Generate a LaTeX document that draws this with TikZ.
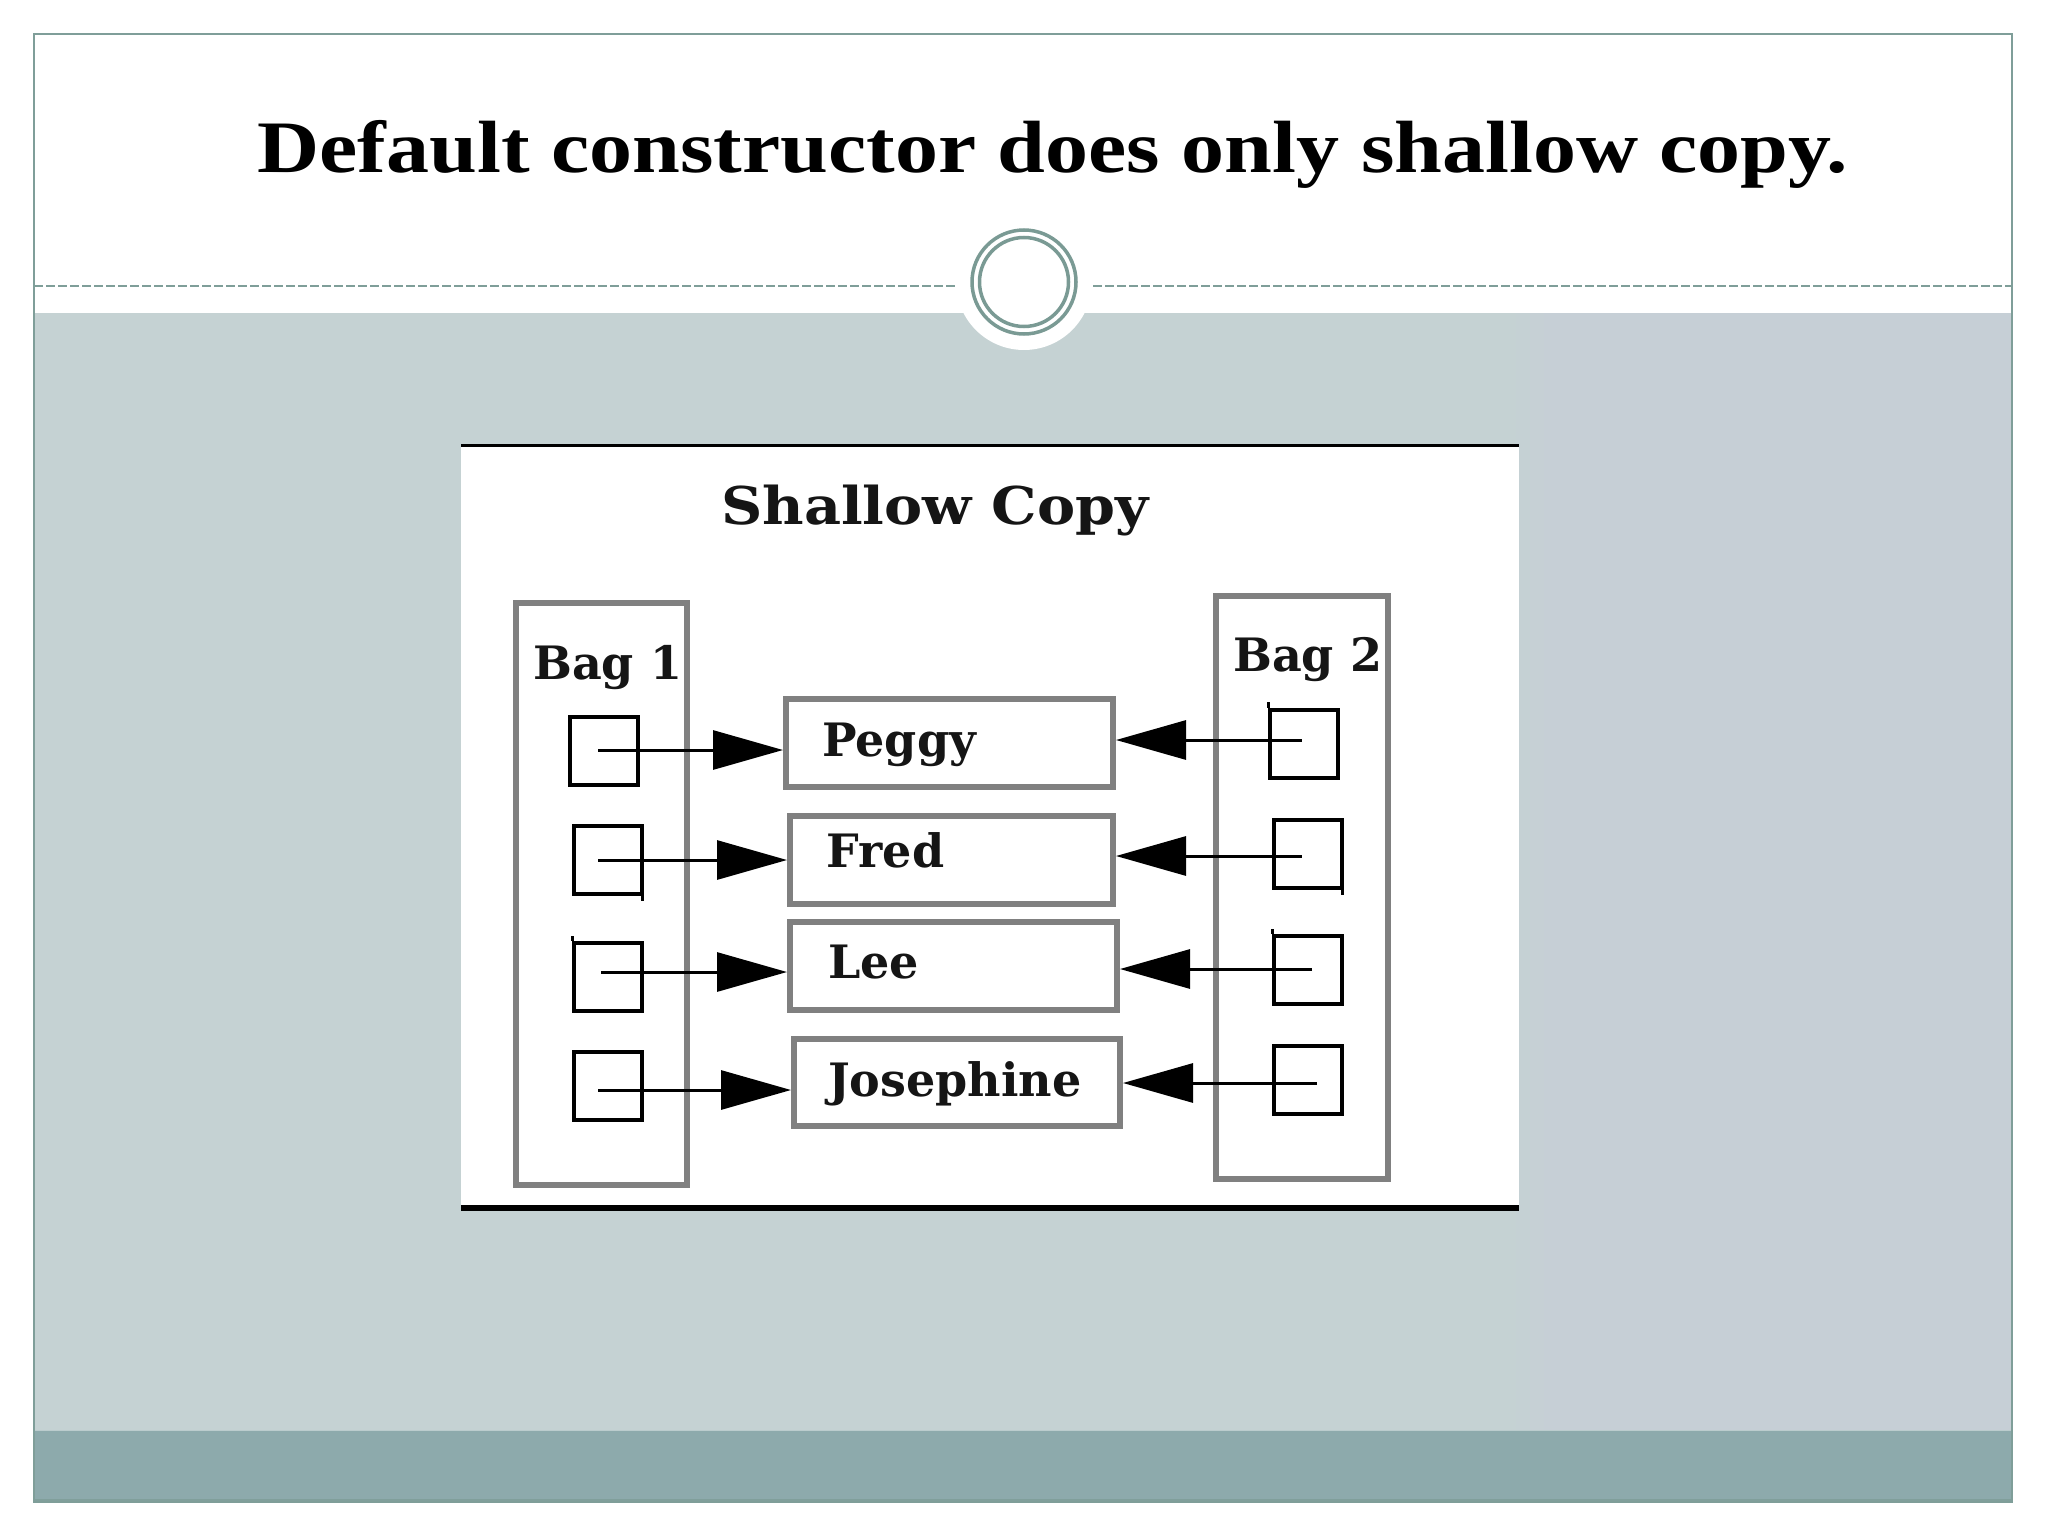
\documentclass[tikz,border=0pt]{standalone}
\usepackage{fontspec}
\setmainfont{Liberation Serif}
\newfontfamily\djfont{DejaVu Serif}
\usetikzlibrary{arrows.meta}
\definecolor{framecol}{HTML}{7F9E99}
\definecolor{ringcol}{HTML}{7A9A94}
\definecolor{bggreen}{HTML}{C5D2D3}
\definecolor{bgblue}{HTML}{C6CFD6}
\definecolor{bandcol}{HTML}{8DAAAC}
\definecolor{boxgray}{HTML}{808080}
\definecolor{ink}{HTML}{151515}
\tikzset{
  bagbox/.style={draw=boxgray, line width=6pt, fill=none, inner sep=0pt, minimum width=171pt, minimum height=582pt},
  namebox/.style={draw=boxgray, line width=6pt, inner sep=0pt, minimum width=326pt, minimum height=88pt},
  slot/.style={draw=black, line width=4pt, inner sep=0pt, minimum size=68pt},
  lbl/.style={font=\djfont\bfseries\fontsize{46}{50}\selectfont, text=ink, inner sep=0pt, anchor=base west},
  ptr/.style={draw=black, line width=3pt, -{Triangle[length=70pt,width=39pt]}},
  tick/.style={draw=black, line width=3pt},
}
\begin{document}
\begin{tikzpicture}[x=1pt,y=-1pt]
\useasboundingbox (0,0) rectangle (2048,1536);
\fill[white] (0,0) rectangle (2048,1536);
% slide background
\fill[bggreen] (34,313) rectangle (1510,1430);
\shade[left color=bggreen, right color=bgblue] (1509,313) rectangle (1550,1430);
\fill[bgblue] (1549,313) rectangle (2012,1430);
\fill[bandcol] (34,1430) rectangle (2012,1500);
\draw[color=bandcol!60!white, line width=1.5pt] (34,1430.5) -- (2012,1430.5);
\draw[color=ringcol!70!bandcol, line width=1.5pt] (34,1500) -- (2012,1500);
\fill[white] (1024,282) circle[radius=68];
\draw[framecol, line width=1.5pt, dash pattern=on 9pt off 3pt] (34,286) -- (955,286);
\draw[framecol, line width=1.5pt, dash pattern=on 9pt off 3pt] (1093,286) -- (2012,286);
\draw[ringcol, line width=3.5pt] (1024,282) circle[radius=52];
\draw[ringcol, line width=3.5pt] (1024,282) circle[radius=44.5];
\draw[framecol, line width=1.5pt] (34,34) rectangle (2012,1502);
% title
\node[anchor=base, inner sep=0pt, font=\fontsize{74}{80}\selectfont\bfseries, text=black] (title) at (1053,172) {\scalebox{1.162}[1]{Default constructor does only shallow copy.}};
% inner picture
\fill[white] (461,444) rectangle (1519,1211);
\draw[black, line width=3pt] (461,445.5) -- (1519,445.5);
\draw[black, line width=6pt] (461,1208) -- (1519,1208);
\node[anchor=base west, inner sep=0pt, font=\djfont\bfseries\fontsize{52}{56}\selectfont, text=ink] (heading) at (721,524) {\scalebox{1.1}[1]{Shallow Copy}};
% bags
\node[bagbox] (bag1) at (601.4,894.3) {};
\node[bagbox, minimum height=583pt, minimum width=172pt] (bag2) at (1302,887.5) {};
\node[lbl] (bag1lbl) at (533,679) {Bag 1};
\node[lbl] (bag2lbl) at (1233,671) {Bag 2};
% name boxes
\node[namebox, minimum width=327pt] (p1) at (949.5,743) {};
\node[namebox, minimum width=323pt] (p2) at (951.5,860) {};
\node[namebox, minimum width=327pt] (p3) at (953.5,966) {};
\node[namebox, minimum height=87pt] (p4) at (957,1082.5) {};
\node[lbl] (n1) at (822,756.5) {Peggy};
\node[lbl] (n2) at (826.5,867) {Fred};
\node[lbl] (n3) at (828,978.5) {Lee};
\node[lbl] (n4) at (828,1096) {Josephine};
% slots of bag 1
\node[slot] (a1) at (603.5,750.7) {};
\node[slot] (a2) at (607.6,860.3) {};
\node[slot] (a3) at (607.6,976.6) {};
\node[slot] (a4) at (607.6,1086) {};
% slots of bag 2
\node[slot] (b1) at (1303.5,743.7) {};
\node[slot] (b2) at (1307.5,853.5) {};
\node[slot] (b3) at (1307.5,969.8) {};
\node[slot] (b4) at (1307.5,1080) {};
% small overshoots of slot edges
\draw[tick] ([xshift=-1pt]a2.south east) -- ([xshift=-1pt,yshift=-5pt]a2.south east);
\draw[tick] ([xshift=1pt]a3.north west) -- ([xshift=1pt,yshift=5pt]a3.north west);
\draw[tick] ([xshift=1pt]b1.north west) -- ([xshift=1pt,yshift=6pt]b1.north west);
\draw[tick] ([xshift=-1pt]b2.south east) -- ([xshift=-1pt,yshift=-5pt]b2.south east);
\draw[tick] ([xshift=1pt]b3.north west) -- ([xshift=1pt,yshift=5pt]b3.north west);
% pointer starts
\coordinate (la1) at (598,750);
\coordinate (la2) at (598,860);
\coordinate (la3) at (601,972);
\coordinate (la4) at (598,1090);
\coordinate (rb1) at (1301.5,740);
\coordinate (rb2) at (1301.5,856);
\coordinate (rb3) at (1312,969);
\coordinate (rb4) at (1317,1083);
\draw[ptr] (la1) -- (la1 -| p1.west);
\draw[ptr] (la2) -- (la2 -| p2.west);
\draw[ptr] (la3) -- (la3 -| p3.west);
\draw[ptr] (la4) -- (la4 -| p4.west);
\draw[ptr] (rb1) -- (rb1 -| p1.east);
\draw[ptr] (rb2) -- (rb2 -| p2.east);
\draw[ptr] (rb3) -- (rb3 -| p3.east);
\draw[ptr] (rb4) -- (rb4 -| p4.east);
\end{tikzpicture}
\end{document}
